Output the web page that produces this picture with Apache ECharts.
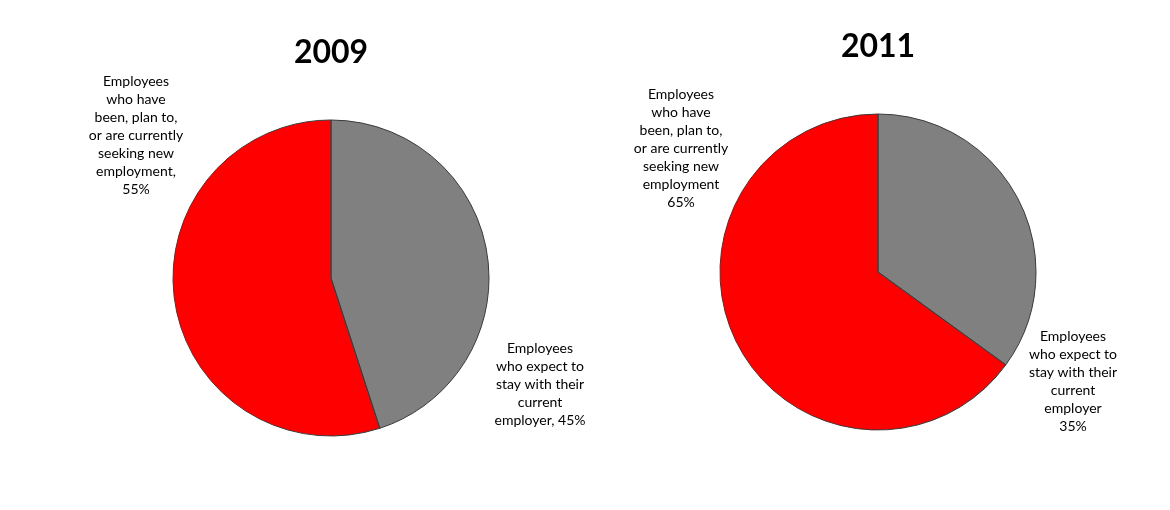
<!DOCTYPE html>
<html><head><meta charset="utf-8">
<script src="https://cdn.jsdelivr.net/npm/echarts@6/dist/echarts.min.js"></script>
<style>html,body{margin:0;padding:0;background:#fff}#c{width:1170px;height:510px}</style>
</head><body><div id="c"></div>
<script>
const years = ['2009', '2011'];
const categories2009 = ['Employees\nwho expect to\nstay with their\ncurrent\nemployer,', 'Employees\nwho have\nbeen, plan to,\nor are currently\nseeking new\nemployment,\n'];
const categories2011 = ['Employees\nwho expect to\nstay with their\ncurrent\nemployer\n', 'Employees\nwho have\nbeen, plan to,\nor are currently\nseeking new\nemployment\n'];
const values2009 = [45, 55];
const values2011 = [35, 65];
const colors = ['#808080', '#FF0000'];

const chart = echarts.init(document.getElementById('c'), null, {renderer: 'canvas'});
const centers = [[331, 278], [878, 272]];
const labelPos = [[[540, 384], [136, 135]], [[1073, 381], [681, 148]]];
function mk(cats, vals, si) {
  return {
    type: 'pie', radius: 158, center: centers[si], startAngle: 90, clockwise: true,
    animation: false,
    data: cats.map((c, i) => ({name: c, value: vals[i], itemStyle: {color: colors[i]}})),
    itemStyle: {borderColor: '#3a3a3a', borderWidth: 1},
    label: {
      show: true, position: 'outside', color: '#000', fontFamily: 'Lato, "Open Sans", sans-serif',
      fontSize: 14, lineHeight: 18, align: 'center',
      formatter: p => { const n = p.name; return (n.endsWith(',') ? n + ' ' : n) + p.value + '%'; }
    },
    labelLine: {show: false},
    labelLayout: p => ({x: labelPos[si][p.dataIndex][0], y: labelPos[si][p.dataIndex][1], align: 'center', verticalAlign: 'middle'}),
    emphasis: {disabled: true}
  };
}
chart.setOption({
  backgroundColor: '#fff',
  title: [
    {text: years[0], left: 331, top: 53, padding: 0, textAlign: 'center', textVerticalAlign: 'middle', textStyle: {fontSize: 32, fontWeight: 'bold', color: '#000', fontFamily: 'Lato, "Open Sans", sans-serif'}},
    {text: years[1], left: 878, top: 47, padding: 0, textAlign: 'center', textVerticalAlign: 'middle', textStyle: {fontSize: 32, fontWeight: 'bold', color: '#000', fontFamily: 'Lato, "Open Sans", sans-serif'}}
  ],
  series: [mk(categories2009, values2009, 0), mk(categories2011, values2011, 1)]
});
</script></body></html>
